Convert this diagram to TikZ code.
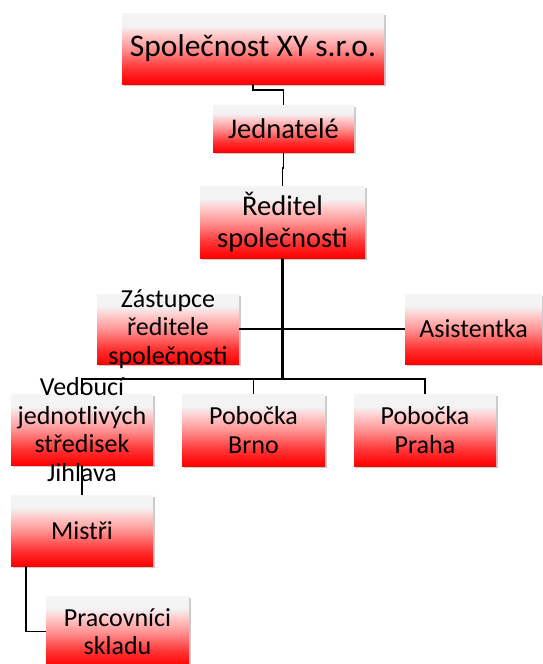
\documentclass[tikz,border=0pt]{standalone}
\usepackage{fontspec}
\setmainfont{Carlito}
\usetikzlibrary{shadows}

% fill of the boxes: light grey at the top, fading to red at the bottom
\pgfdeclareverticalshading{orgfill}{100bp}{%
  color(0bp)=(red); color(25bp)=(red); color(36bp)=(red!80!white);
  color(50bp)=(red!42!white); color(60bp)=(red!20!white);
  color(66bp)=(white!95!black); color(75bp)=(white!96!black);
  color(100bp)=(white!96!black)}

\tikzset{
  orgbox/.style={rectangle, draw=none, shading=orgfill, inner sep=0pt,
    drop shadow={shadow xshift=1.5pt, shadow yshift=-2pt, opacity=0.3, fill=black!70}},
  orgtext/.style={align=center, inner sep=0pt, text=black},
  link/.style={draw=black, line width=1.9pt},
  trunk/.style={draw=black, line width=2.6pt},
}

\begin{document}
\begin{tikzpicture}[x=1pt,y=-1pt]
\useasboundingbox (0,0) rectangle (542,664);

% boxes (positions in picture units)
\node[orgbox, minimum width=262pt, minimum height=71pt] (firm) at (253,48.5) {};
\node[orgbox, minimum width=141pt, minimum height=47pt] (jed) at (283.5,128.5) {};
\node[orgbox, minimum width=165pt, minimum height=72pt] (red) at (282.5,222) {};
\node[orgbox, minimum width=142pt, minimum height=70pt] (zas) at (168,329) {};
\node[orgbox, minimum width=137pt, minimum height=70pt] (asi) at (473.5,329) {};
\node[orgbox, minimum width=142pt, minimum height=71pt] (ved) at (82,429.5) {};
\node[orgbox, minimum width=143pt, minimum height=72pt] (brno) at (253.5,430) {};
\node[orgbox, minimum width=142pt, minimum height=72pt] (praha) at (425,430) {};
\node[orgbox, minimum width=142pt, minimum height=71pt] (mis) at (82,530.5) {};
\node[orgbox, minimum width=143pt, minimum height=71pt] (prac) at (117.5,631.5) {};

% connectors
\coordinate (bus) at (282.5,379);
\draw[link] (firm.south) -- ++(0,6) -| (jed.north);
\draw[link] (jed.south) -- ++(0,16) -| (red.north);
\draw[trunk] (red.south) -- (red.south |- bus);
\draw[link] (zas.east) -- (asi.west);
\draw[link] (ved.north) |- (praha.north |- bus) -- (praha.north);
\draw[link] (brno.north |- bus) -- (brno.north);
\draw[link] (ved.south) -- (mis.north);
\draw[link] ([xshift=-56pt]mis.south) |- (prac.west);

% texts
\node[orgtext, font=\fontsize{31.5}{34}\selectfont] at (firm) {Společnost XY s.r.o.};
\node[orgtext, font=\fontsize{28.5}{32}\selectfont] at (jed) {Jednatelé};
\node[orgtext, font=\fontsize{28.5}{32}\selectfont] at (red) {Ředitel\\společnosti};
\node[orgtext, font=\fontsize{26}{28.5}\selectfont] at (zas) {Zástupce\\ředitele\\společnosti};
\node[orgtext, font=\fontsize{26}{28.5}\selectfont] at (asi) {Asistentka};
\node[orgtext, font=\fontsize{26}{28.7}\selectfont] at (ved) {Vedoucí\\jednotlivých\\středisek\\Jihlava};
\node[orgtext, font=\fontsize{26}{28.5}\selectfont] at (brno) {Pobočka\\Brno};
\node[orgtext, font=\fontsize{26}{28.5}\selectfont] at (praha) {Pobočka\\Praha};
\node[orgtext, font=\fontsize{26}{28.5}\selectfont] at (mis) {Mistři};
\node[orgtext, font=\fontsize{26}{28.5}\selectfont] at (prac) {Pracovníci\\skladu};
\end{tikzpicture}
\end{document}
